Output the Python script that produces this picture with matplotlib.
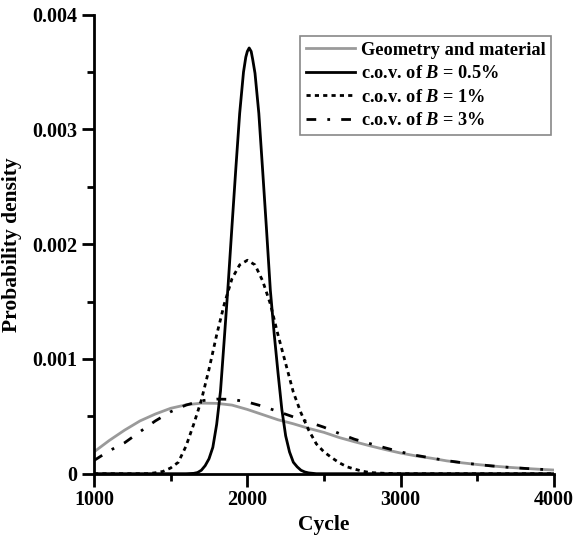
import numpy as np
import matplotlib
matplotlib.use('Agg')
import matplotlib.pyplot as plt
from matplotlib.ticker import MultipleLocator, FuncFormatter

plt.rcParams['font.family'] = ['Liberation Serif', 'DejaVu Serif']
plt.rcParams['font.weight'] = 'bold'
plt.rcParams['mathtext.fontset'] = 'custom'
plt.rcParams['mathtext.it'] = 'Liberation Serif:italic:bold'
plt.rcParams['mathtext.rm'] = 'Liberation Serif:bold'

# geometry and material
geo_x = [1000, 1100, 1200, 1300, 1400, 1500, 1600, 1700, 1800, 1900, 2000,
         2100, 2200, 2300, 2400, 2500, 2600, 2700, 2800, 2900, 3000,
         3100, 3200, 3300, 3400, 3500, 3600, 3700, 3800, 3900, 4000]
geo_y = [0.00019, 0.00029, 0.00038, 0.00046, 0.00052, 0.00057, 0.000600, 0.000615,
         0.000613, 0.000598, 0.00056, 0.000515, 0.00047, 0.000435, 0.000395, 0.00036,
         0.000315, 0.000278, 0.000243, 0.00021, 0.00018, 0.000155, 0.000135, 0.000112,
         0.000095, 0.00008, 0.000067, 0.000056, 0.000047, 0.000039, 0.000032]

# c.o.v. of B = 0.5%
b05_x = [1000, 1600, 1650, 1675, 1700, 1725, 1750, 1775, 1800, 1825, 1850, 1875,
         1900, 1925, 1950, 1975, 1990, 2000, 2012, 2025, 2035, 2050, 2075, 2100,
         2125, 2150, 2175, 2200, 2225, 2250, 2275, 2300, 2325, 2350, 2375, 2400,
         2450, 4000]
b05_y = [0.0, 0.0, 0.000003, 0.00001, 0.00003, 0.00007, 0.00013, 0.00023, 0.00043,
         0.00072, 0.00118, 0.00165, 0.00216, 0.00266, 0.00314, 0.00350, 0.00363,
         0.00368, 0.00371, 0.00368, 0.00361, 0.00349, 0.00314, 0.00264, 0.00213,
         0.00160, 0.00122, 0.00088, 0.00056, 0.00033, 0.00019, 0.00010, 0.00006,
         0.00003, 0.000015, 0.000007, 0.0, 0.0]

# c.o.v. of B = 1%
b1_x = [1000, 1350, 1400, 1450, 1500, 1550, 1600, 1650, 1700, 1750, 1800, 1850,
        1900, 1950, 2000, 2050, 2100, 2150, 2200, 2250, 2300, 2350, 2400, 2450,
        2500, 2550, 2600, 2650, 2700, 2750, 2800, 2900, 3000, 4000]
b1_y = [0.0, 0.0, 0.000008, 0.00002, 0.00005, 0.0001, 0.00024, 0.00043, 0.00064,
        0.00091, 0.00121, 0.00148, 0.00170, 0.00182, 0.00186, 0.00182, 0.00168,
        0.00148, 0.00121, 0.00096, 0.00071, 0.00053, 0.00038, 0.00026, 0.00019,
        0.00014, 0.000095, 0.00006, 0.00004, 0.000022, 0.00001, 0.000003, 0.0, 0.0]

# c.o.v. of B = 3%
b3_x = geo_x
b3_y = [0.000115, 0.0002, 0.00027, 0.000366, 0.00046, 0.00054, 0.000598, 0.000636,
        0.00065, 0.000648, 0.000625, 0.000588, 0.000542, 0.000495, 0.00045, 0.000405,
        0.00035, 0.0003, 0.000262, 0.000225, 0.00019, 0.00016, 0.000137, 0.000114,
        0.000096, 0.00008, 0.000067, 0.000056, 0.000047, 0.000039, 0.000032]

fig = plt.figure(figsize=(5.76, 5.38), dpi=100)
ax = fig.add_axes([0.1632, 0.1195, 0.7986, 0.8532])

ax.plot(geo_x, geo_y, color='#9a9a9a', lw=2.0, label='Geometry and material')
ax.plot(b05_x, b05_y, color='black', lw=2.0, label='c.o.v. of $B$ = 0.5%')
ax.plot(b1_x, b1_y, color='black', lw=2.0, dashes=(1.5, 1.5), label='c.o.v. of $B$ = 1%')
ax.plot(b3_x, b3_y, color='black', lw=2.0, dashes=(3.5, 4, 1, 4), label='c.o.v. of $B$ = 3%')

ax.set_xlim(1000, 4000)
ax.set_ylim(0, 0.004)
ax.xaxis.set_major_locator(MultipleLocator(1000))
ax.xaxis.set_minor_locator(MultipleLocator(500))
ax.yaxis.set_major_locator(MultipleLocator(0.001))
ax.yaxis.set_minor_locator(MultipleLocator(0.0005))
ax.yaxis.set_major_formatter(FuncFormatter(lambda v, p: '0' if v == 0 else '%.3f' % v))

for s in ['top', 'right']:
    ax.spines[s].set_visible(False)
for s in ['left', 'bottom']:
    ax.spines[s].set_linewidth(2)

ax.tick_params(which='major', direction='out', length=9, width=2, labelsize=14.5, pad=3)
ax.tick_params(which='minor', direction='out', length=5, width=2)
for lab in ax.get_xticklabels() + ax.get_yticklabels():
    lab.set_fontweight('bold')

ax.set_xlabel('Cycle', fontsize=15.5, fontweight='bold', labelpad=3)
ax.set_ylabel('Probability density', fontsize=15.5, fontweight='bold', labelpad=7)

leg = ax.legend(loc='upper right', bbox_to_anchor=(0.993, 0.953), fontsize=13.2,
                frameon=True, fancybox=False, edgecolor='#888888', framealpha=1,
                handlelength=2.7, handletextpad=0.3, borderpad=0.3, labelspacing=0.35,
                borderaxespad=0)
leg.get_frame().set_linewidth(1.2)

fig.savefig('out.png', dpi=100)
